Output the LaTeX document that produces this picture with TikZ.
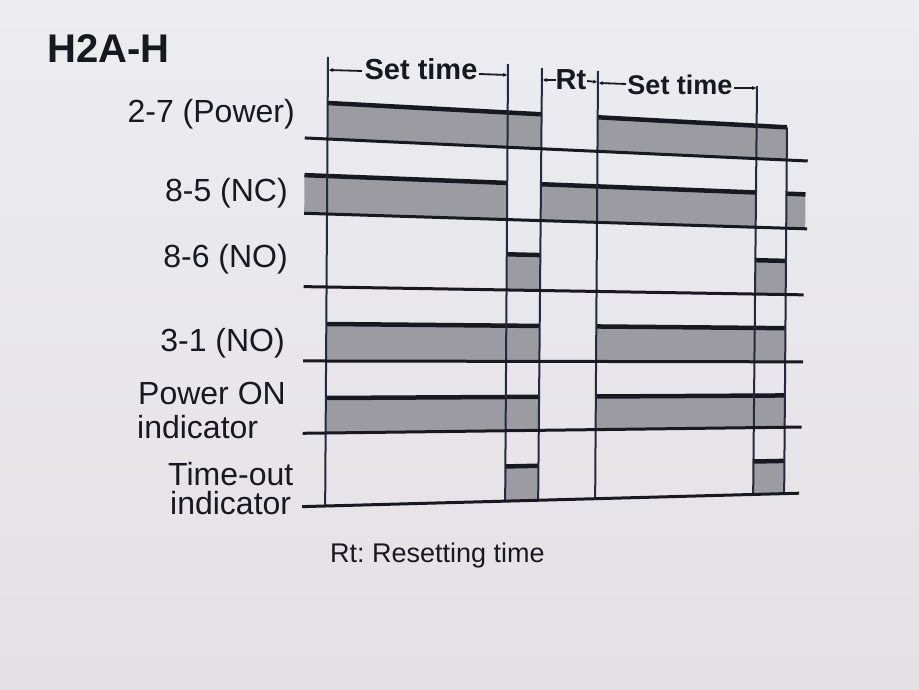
\documentclass[tikz,border=0pt]{standalone}
\usepackage{fontspec}
\setmainfont{Liberation Sans}
\usetikzlibrary{arrows.meta}
\frenchspacing
\definecolor{bgtop}{RGB}{236,236,241}
\definecolor{bgbot}{RGB}{228,225,228}
\definecolor{ink}{RGB}{24,24,32}
\definecolor{vink}{RGB}{38,40,66}
\definecolor{hatch}{RGB}{155,155,161}
% perspective mapping of the photographed screen
\newcommand{\pp}[2]{({(#1)-0.007*((#2)-100)},{(#2)+(0.046-0.0002*((#2)-138))*((#1)-328)})}
\newcommand{\hibar}[4]{%
  \fill[hatch] \pp{#1}{#3} -- \pp{#2}{#3} -- \pp{#2}{#4} -- \pp{#1}{#4} -- cycle;
  \draw[hiline] \pp{#1}{#3} -- \pp{#2}{#3};}
\tikzset{
  hiline/.style={ink,line width=4.5pt},
  baseln/.style={ink,line width=3pt},
  vline/.style={vink,line width=2pt},
  dimline/.style={ink,line width=1.8pt,arrows={Stealth[length=4pt,width=4pt]-}},
  lbl/.style={inner sep=0pt,text=ink,font=\fontsize{32}{36}\selectfont},
  dimlbl/.style={inner sep=0pt,text=ink,font=\bfseries\fontsize{29}{32}\selectfont},
}
\begin{document}
\begin{tikzpicture}[x=1pt,y=-1pt]
\useasboundingbox (0,0) rectangle (919,690);
\shade[top color=bgtop,bottom color=bgbot] (0,0) rectangle (919,690);

% ---- bars (high levels)
% row 1: 2-7 (Power)
\hibar{328}{541}{103}{139}
\hibar{598}{787}{103}{139}
% row 2: 8-5 (NC)
\hibar{305}{508}{176}{214}
\hibar{541}{756}{176}{214}
\hibar{787}{806}{176}{214}
% row 3: 8-6 (NO)
\hibar{508}{541}{250}{287}
\hibar{756}{787}{250}{287}
% row 4: 3-1 (NO)
\hibar{328}{541}{324}{361}
\hibar{598}{787}{324}{361}
% row 5: Power ON indicator
\hibar{328}{541}{398}{433}
\hibar{598}{787}{398}{433}
% row 6: Time-out indicator
\hibar{508}{541}{470}{506}
\hibar{756}{787}{470}{506}

% ---- vertical timing lines
\coordinate (t1) at (328,57);
\coordinate (t2) at (508,64);
\coordinate (t3) at (542,68);
\coordinate (t4) at (598,71);
\coordinate (t5) at (757,86);
\path \pp{787}{103} coordinate (t6);
\path \pp{328}{506} coordinate (b1);
\path \pp{508}{506} coordinate (b2);
\path \pp{541}{506} coordinate (b3);
\path \pp{598}{506} coordinate (b4);
\path \pp{756}{506} coordinate (b5);
\path \pp{787}{506} coordinate (b6);
\foreach \i in {1,...,6} \draw[vline] (t\i) -- (b\i);

% ---- baselines
\draw[baseln] \pp{305}{139} -- \pp{808}{139};
\draw[baseln] \pp{305}{214} -- \pp{808}{214};
\draw[baseln] \pp{305}{287} -- \pp{805}{287};
\draw[baseln] \pp{305}{361} -- \pp{805}{361};
\draw[baseln] \pp{305}{433} -- \pp{804}{433};
\draw[baseln] \pp{305}{506} -- \pp{802}{506};

% ---- dimension labels
\node[dimlbl,anchor=base] (st1) at (421,80) {Set time};
\node[dimlbl,anchor=base] (rt) at (571,90) {Rt};
\node[dimlbl,anchor=base,font=\bfseries\fontsize{27}{30}\selectfont] (st2) at (680,95) {Set time};
\coordinate (d1a) at (329,70);  \coordinate (d1b) at (362,71);
\coordinate (d2a) at (507,75);  \coordinate (d2b) at (479,74);
\coordinate (d3a) at (543,80);  \coordinate (d3b) at (556,80);
\coordinate (d4a) at (597,82);  \coordinate (d4b) at (587,81);
\coordinate (d5a) at (599,83);  \coordinate (d5b) at (626,84);
\coordinate (d6a) at (756,88);  \coordinate (d6b) at (734,88);
\foreach \i in {1,...,6} \draw[dimline] (d\i a) -- (d\i b);

% ---- signal labels
\node[lbl,anchor=base west,font=\bfseries\fontsize{40}{44}\selectfont] (title) at (47,63) {H2A-H};
\node[lbl,anchor=base east] (l1) at (295,123) {2-7 (Power)};
\node[lbl,anchor=base east] (l2) at (288,201) {8-5 (NC)};
\node[lbl,anchor=base east] (l3) at (288,267) {8-6 (NO)};
\node[lbl,anchor=base east] (l4) at (285,351) {3-1 (NO)};
\node[lbl,anchor=base west] (l5a) at (138,404) {Power ON};
\node[lbl,anchor=base west] (l5b) at (137,438) {indicator};
\node[lbl,anchor=base west] (l6a) at (168,485) {Time-out};
\node[lbl,anchor=base west] (l6b) at (170,514) {indicator};
\node[lbl,anchor=base west,font=\fontsize{27}{30}\selectfont] (note) at (330,562) {Rt: Resetting time};
\end{tikzpicture}
\end{document}
